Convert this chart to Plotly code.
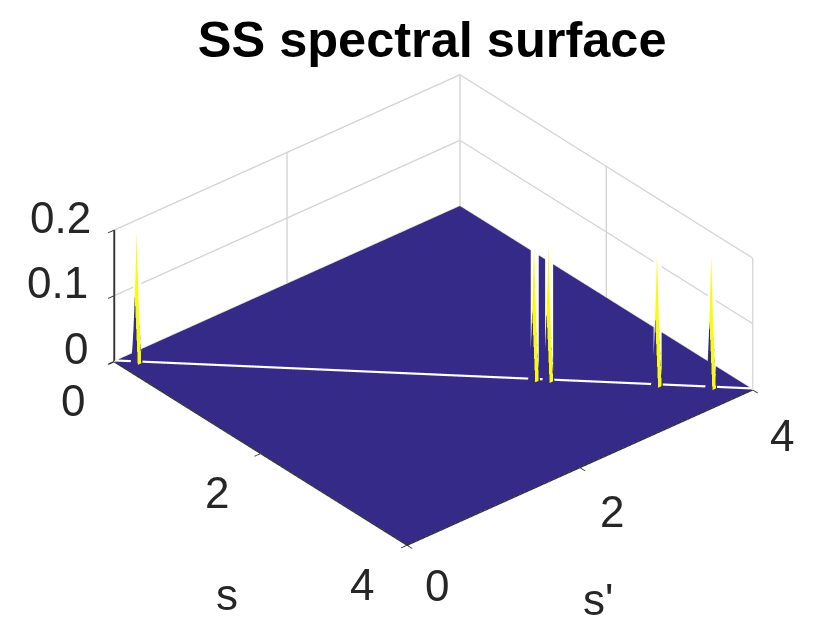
import plotly.graph_objects as go
import numpy as np

peak_s = [0.14, 2.63, 2.72, 3.40, 3.74]
peak_z = [0.198, 0.204, 0.203, 0.200, 0.200]
axis_limits = [0, 4]
axis_ticks = [0, 2, 4]
z_ticks = [0, 0.1, 0.2]
PARULA_LOW = "#352a87"
PARULA_HIGH = "#f9fb0e"
TEXT = "#262626"

half = 0.04
grid = sorted(set([axis_limits[0], axis_limits[1]] +
                  [round(p + k * half, 5) for p in peak_s for k in (-1.02, -1, 0, 1, 1.02)]))
index = {v: i for i, v in enumerate(grid)}
z = np.zeros((len(grid), len(grid)))
color = np.zeros_like(z)
for p, h in zip(peak_s, peak_z):
    i = index[round(p, 5)]
    j = index[round(p + half, 5)]
    z[i, i] = h
    color[i, i] = 1
    color[i, j] = 1

fig = go.Figure()
fig.add_trace(go.Surface(
    x=grid, y=grid, z=z, surfacecolor=color, cmin=0, cmax=1, showscale=False,
    colorscale=[[0, PARULA_LOW], [0.5, PARULA_LOW], [0.5, PARULA_HIGH], [1, PARULA_HIGH]],
    lighting=dict(ambient=1, diffuse=0, specular=0, roughness=1, fresnel=0),
    hoverinfo="skip",
))
fig.add_trace(go.Scatter3d(x=axis_limits, y=axis_limits, z=[0.001, 0.001], mode="lines",
                           line=dict(color="white", width=5), showlegend=False, hoverinfo="skip"))
for p, h in zip(peak_s, peak_z):
    fig.add_trace(go.Scatter3d(x=[p - 0.05, p - 0.05], y=[p + 0.05, p + 0.05], z=[0.001, h],
                               mode="lines", line=dict(color="white", width=16),
                               showlegend=False, hoverinfo="skip"))
fig.add_trace(go.Scatter3d(x=[0, 0], y=[0, 0], z=[0, 0.2], mode="lines",
                           line=dict(color="#4a4a4a", width=4), showlegend=False, hoverinfo="skip"))

common = dict(showbackground=False, showgrid=True, gridcolor="#d4d4d4", gridwidth=3,
              zeroline=False, showline=True, linecolor="#333333", linewidth=3,
              ticks="outside", ticklen=8, tickcolor="#333333", tickwidth=2,
              showticklabels=False, showspikes=False, title=dict(text=""))


def label(text, x, y, z_val, dx, dy, **kw):
    return dict(x=x, y=y, z=z_val, text=text, showarrow=False, xshift=dx, yshift=dy,
                font=dict(family="Liberation Sans", size=44, color=TEXT), **kw)


annotations = [
    label("0", 0, 0, 0, -38, 13),
    label("0.1", 0, 0, 0.1, -56, 13),
    label("0.2", 0, 0, 0.2, -53, 12),
    label("0", 0, 0, 0, -41, -39),
    label("2", 2, 0, 0, -43, -40),
    label("4", 4, 0, 0, -45, -40),
    label("0", 4, 0, 0, 30, -41),
    label("2", 4, 2, 0, 33, -45),
    label("4", 4, 4, 0, 30, -46),
    label("s", 2, 0, 0, -33, -142),
    label("s'", 4, 2, 0, 19, -133),
]

fig.update_layout(
    width=830, height=629, margin=dict(l=0, r=0, t=0, b=0),
    paper_bgcolor="white", showlegend=False,
    title=dict(text="<b>SS spectral surface</b>", x=0.511, xanchor="center", y=0.95, yanchor="middle",
               font=dict(family="Liberation Sans", size=50.5, color="black")),
    scene=dict(
        domain=dict(x=[0.032, 0.992], y=[0.04, 1.0]),
        xaxis=dict(range=axis_limits, tickvals=axis_ticks, **common),
        yaxis=dict(range=axis_limits, tickvals=axis_ticks, **common),
        zaxis=dict(range=[-0.001, 0.2], tickvals=z_ticks, **common),
        aspectmode="manual", aspectratio=dict(x=1.50, y=1.50, z=0.515),
        annotations=annotations,
        camera=dict(projection=dict(type="orthographic"),
                    up=dict(x=0, y=0, z=1), center=dict(x=0, y=0, z=0),
                    eye=dict(x=0.85, y=-0.72, z=0.697)),
    ),
)
fig.write_html("out.html")
